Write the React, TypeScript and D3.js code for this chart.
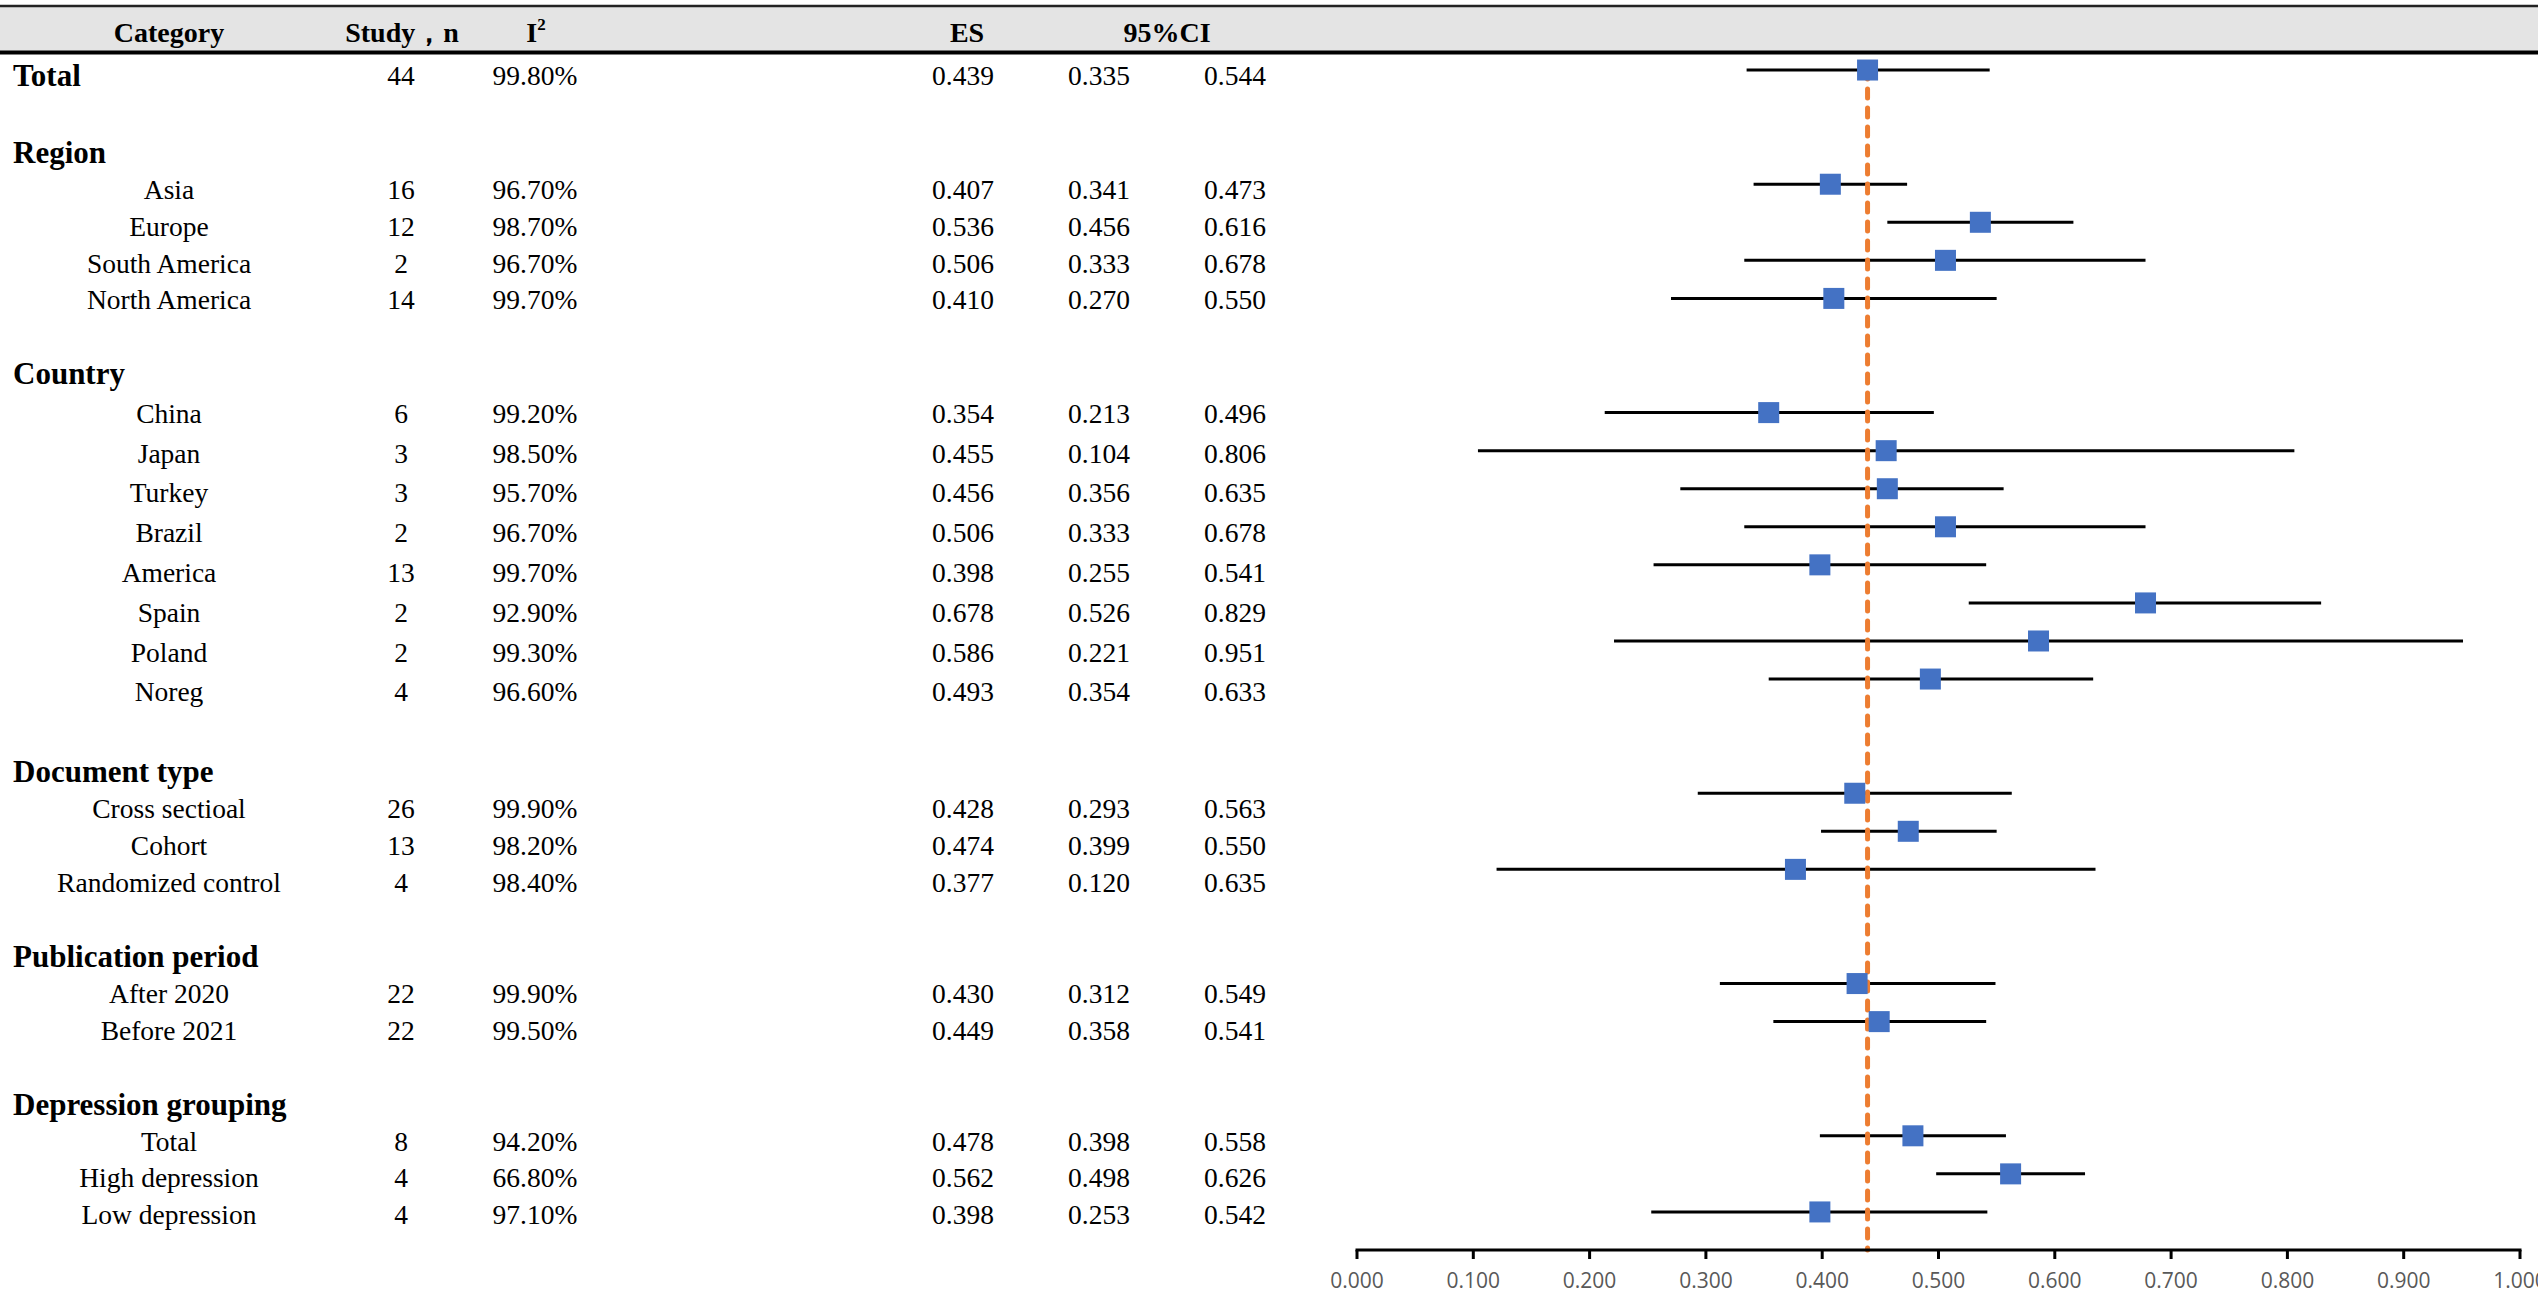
import React from "react";
import * as d3 from "d3";

// ---------------- DATA ----------------
const overallLabel = "Total";
const sectionNames = ["Region", "Country", "Document type", "Publication period", "Depression grouping"];
const sectionItems = [
  ["Asia", "Europe", "South America", "North America"],
  ["China", "Japan", "Turkey", "Brazil", "America", "Spain", "Poland", "Noreg"],
  ["Cross sectioal", "Cohort", "Randomized control"],
  ["After 2020", "Before 2021"],
  ["Total", "High depression", "Low depression"],
];
// values in row order: overall, then every subgroup
const studyCounts = [44, 16, 12, 2, 14, 6, 3, 3, 2, 13, 2, 2, 4, 26, 13, 4, 22, 22, 8, 4, 4];
const i2Values = ["99.80%", "96.70%", "98.70%", "96.70%", "99.70%", "99.20%", "98.50%", "95.70%", "96.70%", "99.70%", "92.90%", "99.30%", "96.60%", "99.90%", "98.20%", "98.40%", "99.90%", "99.50%", "94.20%", "66.80%", "97.10%"];
const esValues = [0.439, 0.407, 0.536, 0.506, 0.410, 0.354, 0.455, 0.456, 0.506, 0.398, 0.678, 0.586, 0.493, 0.428, 0.474, 0.377, 0.430, 0.449, 0.478, 0.562, 0.398];
const ciLowerValues = [0.335, 0.341, 0.456, 0.333, 0.270, 0.213, 0.104, 0.356, 0.333, 0.255, 0.526, 0.221, 0.354, 0.293, 0.399, 0.120, 0.312, 0.358, 0.398, 0.498, 0.253];
const ciUpperValues = [0.544, 0.473, 0.616, 0.678, 0.550, 0.496, 0.806, 0.635, 0.678, 0.541, 0.829, 0.951, 0.633, 0.563, 0.550, 0.635, 0.549, 0.541, 0.558, 0.626, 0.542];
// whiskers as drawn in the plot (Turkey's drawn whisker differs from its table text)
const plotLower = [0.335, 0.341, 0.456, 0.333, 0.270, 0.213, 0.104, 0.278, 0.333, 0.255, 0.526, 0.221, 0.354, 0.293, 0.399, 0.120, 0.312, 0.358, 0.398, 0.498, 0.253];
const plotUpper = [0.544, 0.473, 0.616, 0.678, 0.550, 0.496, 0.806, 0.556, 0.678, 0.541, 0.829, 0.951, 0.633, 0.563, 0.550, 0.635, 0.549, 0.541, 0.558, 0.626, 0.542];
const pooledEffect = 0.439;
const xTicks = [0, 0.1, 0.2, 0.3, 0.4, 0.5, 0.6, 0.7, 0.8, 0.9, 1.0];
const headerLabels = { category: "Category", study: "Study\uFF0Cn", i2: "I", es: "ES", ci: "95%CI" };

// ---------------- LAYOUT ----------------
const W = 2538;
const H = 1300;
const SERIF = "'Liberation Serif', 'Times New Roman', serif";
const SANS = "'Open Sans', 'Liberation Sans', sans-serif";
const BLUE = "#4472C4";
const ORANGE = "#ED7D31";

type Row = { kind: "overall" | "blank" | "header" | "item"; label: string; dataIndex: number };

function buildRows(): Row[] {
  const rows: Row[] = [{ kind: "overall", label: overallLabel, dataIndex: 0 }];
  let d = 1;
  sectionNames.forEach((name, si) => {
    rows.push({ kind: "blank", label: "", dataIndex: -1 });
    rows.push({ kind: "header", label: name, dataIndex: -1 });
    sectionItems[si].forEach((item) => {
      rows.push({ kind: "item", label: item, dataIndex: d });
      d += 1;
    });
  });
  return rows;
}

export default function App() {
  const rows = buildRows();
  const nRows = rows.length; // 31

  // plot scales
  const x = d3.scaleLinear().domain([0, 1]).range([1357, 2520]);
  const y = d3.scaleLinear().domain([-0.5, nRows]).range([51, 1250]);
  const axisY = y(nRows);

  // table rows (Excel rows of unequal height): anchored at section headers
  const anchorIdx = [0, ...rows.map((r, i) => (r.kind === "header" ? i : -1)).filter((i) => i >= 0), nRows - 1];
  const anchorY = [76, 153, 374, 772, 957, 1105, 1215];
  const ty = d3.scaleLinear().domain(anchorIdx).range(anchorY);

  const fsItem = 27.5;
  const fsBold = 31;
  const fsHead = 28;
  const base = (i: number, fs: number) => ty(i) + 0.33 * fs;
  const fmt = d3.format(".3f");

  const dataRows = rows.map((r, i) => ({ ...r, i })).filter((r) => r.dataIndex >= 0);

  return (
    <svg
      width={W}
      height={H}
      viewBox={`0 0 ${W} ${H}`}
      style={{ position: "absolute", left: 0, top: 0, display: "block", background: "#fff" }}
    >
      {/* header band */}
      <rect x={0} y={7} width={W} height={44} fill="#E4E4E4" />
      <line x1={0} x2={W} y1={6} y2={6} stroke="#222" strokeWidth={2.5} />
      <line x1={0} x2={W} y1={52.5} y2={52.5} stroke="#000" strokeWidth={4} />
      <g fontFamily={SERIF} fontWeight="bold" fontSize={fsHead} fill="#000" textAnchor="middle">
        <text x={169} y={42}>{headerLabels.category}</text>
        <text x={402} y={42}>{headerLabels.study}</text>
        <text x={536} y={42}>
          {headerLabels.i2}
          <tspan fontSize={17} dy={-12}>2</tspan>
        </text>
        <text x={967} y={42}>{headerLabels.es}</text>
        <text x={1167} y={42}>{headerLabels.ci}</text>
      </g>

      {/* table */}
      <g fontFamily={SERIF} fill="#000">
        {rows.map((r, i) => {
          if (r.kind === "overall" || r.kind === "header") {
            return (
              <text key={"l" + i} x={13} y={base(i, fsBold)} fontSize={fsBold} fontWeight="bold">
                {r.label}
              </text>
            );
          }
          if (r.kind === "item") {
            return (
              <text key={"l" + i} x={169} y={base(i, fsItem)} fontSize={fsItem} textAnchor="middle">
                {r.label}
              </text>
            );
          }
          return null;
        })}
        {dataRows.map((r) => (
          <g key={"v" + r.i} fontSize={fsItem} textAnchor="middle">
            <text x={401} y={base(r.i, fsItem)}>{studyCounts[r.dataIndex]}</text>
            <text x={535} y={base(r.i, fsItem)}>{i2Values[r.dataIndex]}</text>
            <text x={963} y={base(r.i, fsItem)}>{fmt(esValues[r.dataIndex])}</text>
            <text x={1099} y={base(r.i, fsItem)}>{fmt(ciLowerValues[r.dataIndex])}</text>
            <text x={1235} y={base(r.i, fsItem)}>{fmt(ciUpperValues[r.dataIndex])}</text>
          </g>
        ))}
      </g>

      {/* whiskers */}
      <g stroke="#000" strokeWidth={3}>
        {dataRows.map((r) => (
          <line
            key={"w" + r.i}
            x1={x(plotLower[r.dataIndex])}
            x2={x(plotUpper[r.dataIndex])}
            y1={y(r.i)}
            y2={y(r.i)}
          />
        ))}
      </g>

      {/* pooled reference line */}
      <line
        x1={x(pooledEffect)}
        x2={x(pooledEffect)}
        y1={y(0)}
        y2={axisY}
        stroke={ORANGE}
        strokeWidth={5}
        strokeDasharray="9 10"
        strokeLinecap="round"
      />

      {/* squares */}
      <g fill={BLUE}>
        {dataRows.map((r) => (
          <rect
            key={"s" + r.i}
            x={x(esValues[r.dataIndex]) - 10.5}
            y={y(r.i) - 10.5}
            width={21}
            height={21}
          />
        ))}
      </g>

      {/* x axis */}
      <g>
        <line x1={x(0) - 1.5} x2={x(1) + 1.5} y1={axisY} y2={axisY} stroke="#000" strokeWidth={3} />
        {xTicks.map((t) => (
          <g key={"t" + t}>
            <line x1={x(t)} x2={x(t)} y1={axisY} y2={axisY + 9} stroke="#000" strokeWidth={3} />
            <text
              x={x(t)}
              y={axisY + 38}
              fontFamily={SANS}
              fontSize={21}
              fill="#595959"
              textAnchor="middle"
            >
              {fmt(t)}
            </text>
          </g>
        ))}
      </g>
    </svg>
  );
}
